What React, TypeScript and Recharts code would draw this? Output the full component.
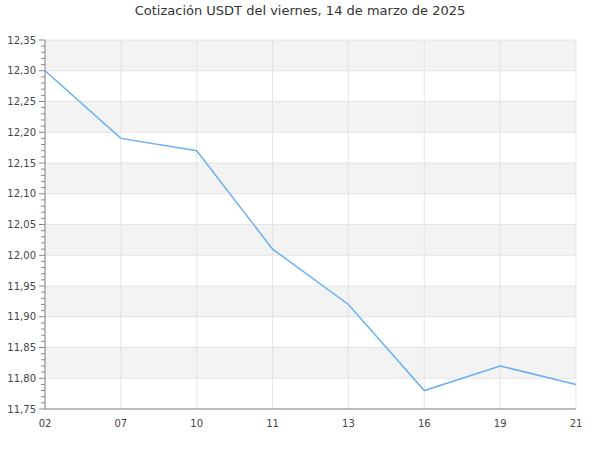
import React from 'react';
import { LineChart, Line, XAxis, YAxis, CartesianGrid } from 'recharts';

const categories = ['02', '07', '10', '11', '13', '16', '19', '21'];
const prices = [12.30, 12.19, 12.17, 12.01, 11.92, 11.78, 11.82, 11.79];
const majorTicks = [11.75, 11.80, 11.85, 11.90, 11.95, 12.00, 12.05, 12.10, 12.15, 12.20, 12.25, 12.30, 12.35];
const minorOffsets = [0.01, 0.02, 0.03, 0.04];
const title = 'Cotización USDT del viernes, 14 de marzo de 2025';

const data = categories.map((c, i) => ({ day: c, price: prices[i] }));

const allTicks: number[] = [];
majorTicks.forEach((t, i) => {
  allTicks.push(t);
  if (i < majorTicks.length - 1) minorOffsets.forEach((o) => allTicks.push(Math.round((t + o) * 100) / 100));
});
const isMajor = (v: number) => majorTicks.some((m) => Math.abs(m - v) < 1e-6);

const FONT = '"DejaVu Sans", sans-serif';

const YTick = (props: any) => {
  const { x, y, payload } = props;
  const v = payload.value as number;
  const major = isMajor(v);
  return (
    <g>
      <line x1={x - (major ? 6 : 4)} x2={x} y1={y} y2={y} stroke="#888" strokeWidth={1} />
      {major && (
        <text x={x - 9} y={y} dy="0.35em" textAnchor="end" fontSize={10} fill="#444" fontFamily={FONT}>
          {v.toFixed(2).replace('.', ',')}
        </text>
      )}
    </g>
  );
};

export default function App() {
  return (
    <div style={{ position: 'absolute', left: 0, top: 0, width: 600, height: 450, background: '#fff' }}>
      <div
        style={{
          position: 'absolute',
          left: 0,
          top: 3,
          width: 600,
          textAlign: 'center',
          fontFamily: FONT,
          fontSize: 13,
          color: '#333',
        }}
      >
        {title}
      </div>
      <LineChart width={600} height={450} data={data} margin={{ top: 40, right: 24, bottom: 0, left: 0 }}>
        <CartesianGrid
          stroke="#e4e4e4"
          horizontalFill={['#f3f3f3', '#ffffff']}
          horizontalValues={majorTicks}
        />
        <XAxis
          dataKey="day"
          height={41}
          tickLine={false}
          tickSize={0}
          tickMargin={11}
          stroke="#888"
          tick={{ fontSize: 10, fill: '#444', fontFamily: FONT }}
          interval={0}
        />
        <YAxis
          width={45}
          domain={[11.75, 12.35]}
          ticks={allTicks}
          interval={0}
          tickLine={false}
          tickSize={0}
          tickMargin={0}
          stroke="#888"
          tick={<YTick />}
          allowDataOverflow
        />
        <Line
          type="linear"
          dataKey="price"
          stroke="#6aaff2"
          strokeWidth={1.5}
          dot={false}
          isAnimationActive={false}
        />
      </LineChart>
    </div>
  );
}
